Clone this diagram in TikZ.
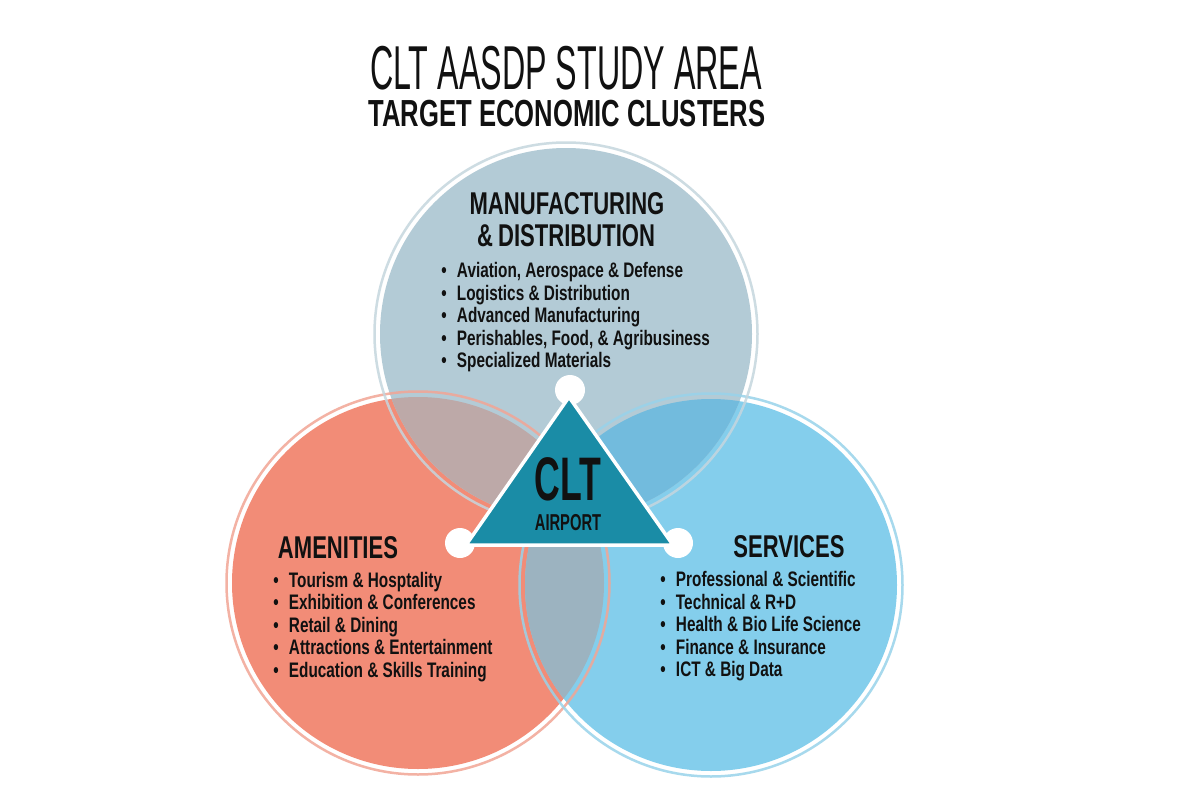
\documentclass[tikz,border=0pt]{standalone}
\usepackage{fontspec}
\setmainfont{Liberation Sans}
\newfontfamily\fTitleL{Liberation Sans}[FakeStretch=0.52]
\newfontfamily\fTitleB{Liberation Sans}[FakeStretch=0.68]
\newfontfamily\fHead{Liberation Sans}[FakeStretch=0.70]
\newfontfamily\fItem{Liberation Sans}[FakeStretch=0.73]
\newfontfamily\fClt{Liberation Sans}[FakeStretch=0.58]
\newfontfamily\fAir{Liberation Sans}[FakeStretch=0.64]
\definecolor{topC}{HTML}{B3CBD6}
\definecolor{leftC}{HTML}{F28C77}
\definecolor{rightC}{HTML}{84CEEC}
\definecolor{tlC}{HTML}{BDA9A8}
\definecolor{trC}{HTML}{72BBDD}
\definecolor{lrC}{HTML}{9CB3C0}
\definecolor{allC}{HTML}{8FAFC0}
\definecolor{topR}{HTML}{C5D6DE}
\definecolor{leftR}{HTML}{F2A595}
\definecolor{rightR}{HTML}{98D3EA}
\definecolor{triC}{HTML}{1A8CA6}
\definecolor{inkC}{HTML}{111111}
\newcommand\itm[1]{\makebox[15.6pt][l]{\textbullet}#1}
\begin{document}
\begin{tikzpicture}[x=1pt,y=-1pt,
  every node/.style={inner sep=0pt,outer sep=0pt,text=inkC},
  heading/.style={anchor=base,font=\fHead\bfseries\fontsize{31.5}{34}\selectfont},
  listitem/.style={anchor=base west,font=\fItem\bfseries\fontsize{21}{24}\selectfont},
  ring/.style={line width=2.5pt,opacity=0.85}]
\useasboundingbox (0,0) rectangle (1200,800);
\fill[white] (0,0) rectangle (1200,800);
\coordinate (cT) at (566,334);
\coordinate (cL) at (418,583);
\coordinate (cR) at (711,585);
% discs
\fill[leftC] (cL) circle (186pt);
\fill[rightC] (cR) circle (186pt);
\fill[topC] (cT) circle (186pt);
\begin{scope}
  \clip (cT) circle (186pt);
  \fill[tlC] (cL) circle (186pt);
  \fill[trC] (cR) circle (186pt);
\end{scope}
\begin{scope}
  \clip (cL) circle (186pt);
  \fill[lrC] (cR) circle (186pt);
  \clip (cR) circle (186pt);
  \fill[allC] (cT) circle (186pt);
\end{scope}
% rings
\draw[ring,leftR] (cL) circle (191.5pt);
\draw[ring,rightR] (cR) circle (191.5pt);
\draw[ring,topR] (cT) circle (191.5pt);
% title
\node[anchor=base,text height=44pt,text depth=0pt,font=\fTitleL\fontsize{62}{68}\selectfont] (t1) at (566,89) {CLT AASDP STUDY AREA};
\node[anchor=base,text height=27pt,text depth=0pt,font=\fTitleB\bfseries\fontsize{37.7}{40}\selectfont] (t2) at (567,126) {TARGET ECONOMIC CLUSTERS};
% top cluster
\node[heading] (h1a) at (567,214) {MANUFACTURING};
\node[heading] (h1b) at (566,246) {\&\,DISTRIBUTION};
\node[listitem] (m1) at (441.4,277.5) {\itm{Aviation, Aerospace \& Defense}};
\node[listitem] (m2) at (441.4,300) {\itm{Logistics \& Distribution}};
\node[listitem] (m3) at (441.4,322.5) {\itm{Advanced Manufacturing}};
\node[listitem] (m4) at (441.4,345) {\itm{Perishables, Food, \& Agribusiness}};
\node[listitem] (m5) at (441.4,367.5) {\itm{Specialized Materials}};
% left cluster
\node[heading] (h2) at (338,558) {AMENITIES};
\node[listitem] (a1) at (273.4,587) {\itm{Tourism \& Hosptality}};
\node[listitem] (a2) at (273.4,609.5) {\itm{Exhibition \& Conferences}};
\node[listitem] (a3) at (273.4,632) {\itm{Retail \& Dining}};
\node[listitem] (a4) at (273.4,654.5) {\itm{Attractions \& Entertainment}};
\node[listitem] (a5) at (273.4,677) {\itm{Education \& Skills Training}};
% right cluster
\node[heading] (h3) at (789,557) {SERVICES};
\node[listitem] (s1) at (660.4,586.5) {\itm{Professional \& Scientific}};
\node[listitem] (s2) at (660.4,609) {\itm{Technical \& R+D}};
\node[listitem] (s3) at (660.4,631.5) {\itm{Health \& Bio Life Science}};
\node[listitem] (s4) at (660.4,654) {\itm{Finance \& Insurance}};
\node[listitem] (s5) at (660.4,676.5) {\itm{ICT \& Big Data}};
% CLT triangle
\fill[white] (570,390) circle (15pt);
\fill[white] (460,543) circle (15pt);
\fill[white] (678,543) circle (15pt);
\coordinate (vA) at (569,397);
\coordinate (vB) at (466,545);
\coordinate (vC) at (673,545);
\filldraw[fill=triC,draw=white,line width=3.5pt,line join=round] (vA) -- (vB) -- (vC) -- cycle;
\node[anchor=base,font=\fClt\bfseries\fontsize{61.5}{64}\selectfont] (clt) at (568,500) {CLT};
\node[anchor=base,font=\fAir\bfseries\fontsize{23}{25}\selectfont] (air) at (568,530) {AIRPORT};
\end{tikzpicture}
\end{document}
